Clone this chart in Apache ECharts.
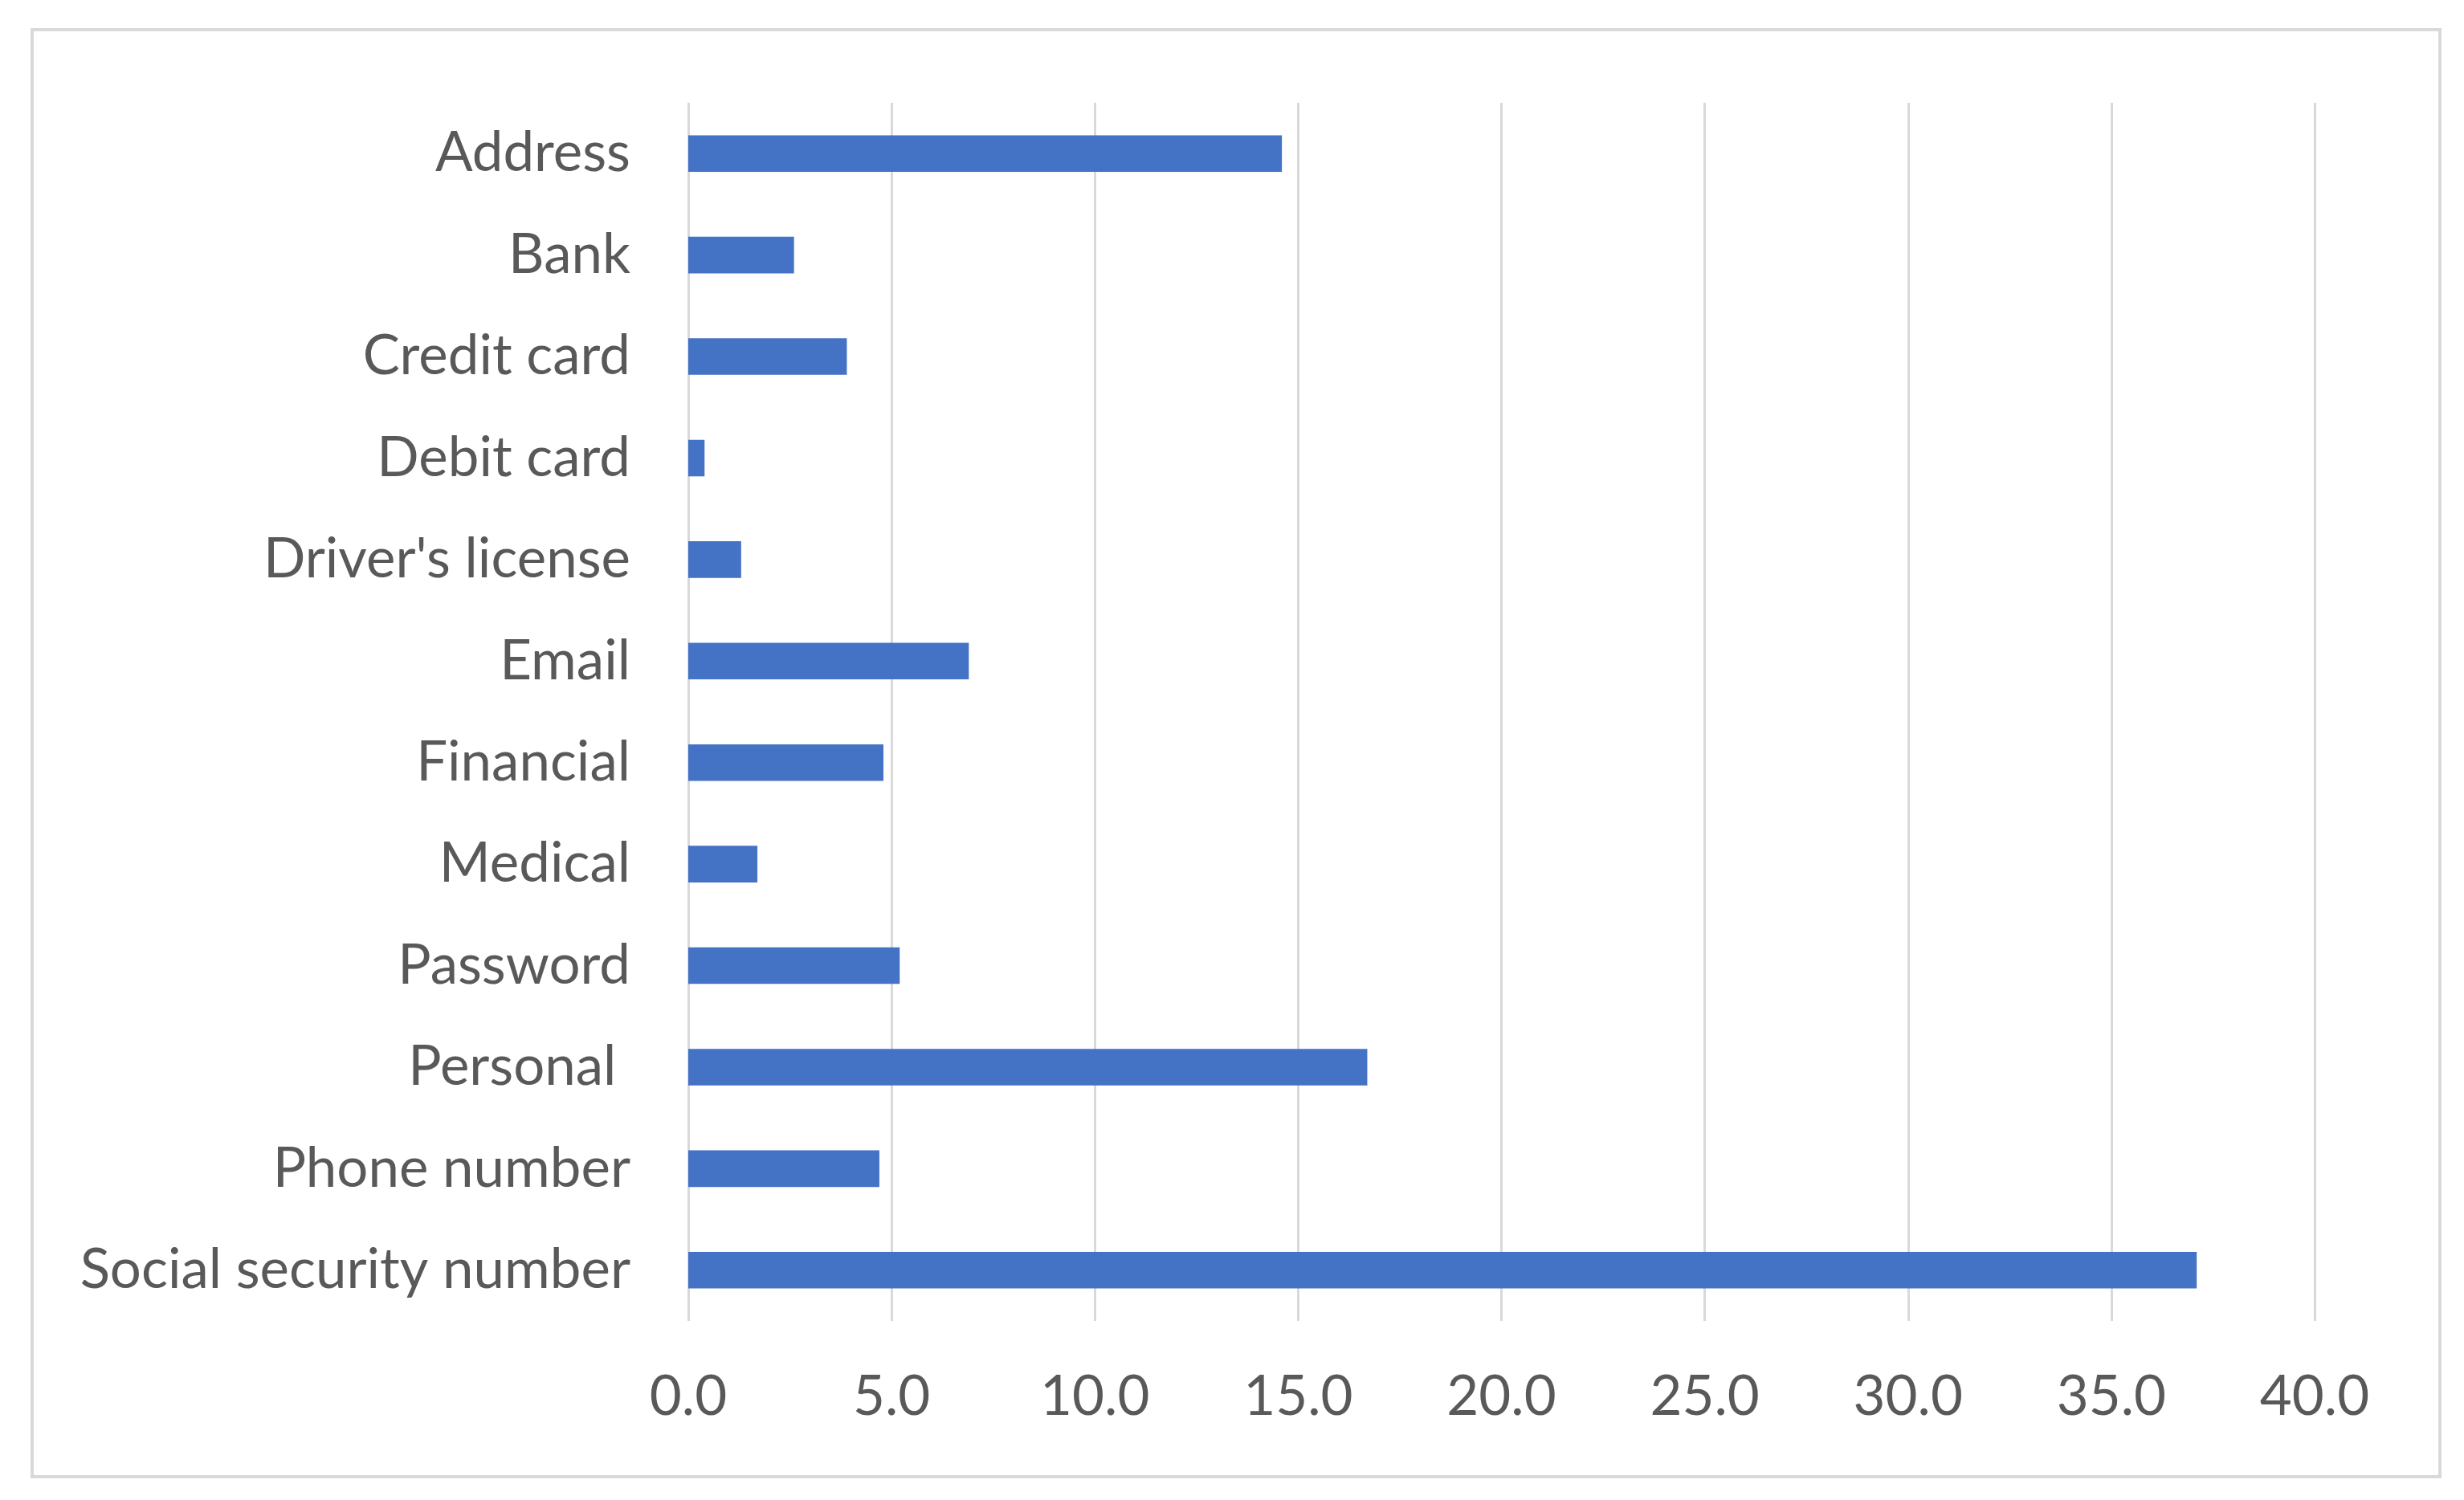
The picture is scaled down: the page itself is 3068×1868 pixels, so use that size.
<!DOCTYPE html>
<html>
<head>
<meta charset="utf-8">
<script src="https://cdn.jsdelivr.net/npm/echarts@6/dist/echarts.min.js"></script>
<style>
  html, body { margin: 0; padding: 0; background: #fff; }
  #Bars { width: 3068px; height: 1868px; }
</style>
</head>
<body>
<div id="Bars"></div>
<script>
// categories, top to bottom
const categories = ['Address', 'Bank', 'Credit card', 'Debit card', "Driver's license", 'Email',
  'Financial', 'Medical', 'Password', 'Personal ', 'Phone number', 'Social security number'];
const values = [14.6, 2.6, 3.9, 0.4, 1.3, 6.9, 4.8, 1.7, 5.2, 16.7, 4.7, 37.1];
const xMin = 0;
const xMax = 40;
const xStep = 5;

const dom = document.getElementById('Bars');
const myChart = echarts.init(dom);
const option = {
  animation: false,
  backgroundColor: '#ffffff',
  textStyle: { fontFamily: 'Lato' },
  graphic: [
    {
      type: 'rect',
      shape: { x: 40, y: 37, width: 2998, height: 1802 },
      style: { fill: 'none', stroke: '#d9d9d9', lineWidth: 4 },
      silent: true,
    },
  ],
  grid: {
    left: 857,
    right: 186,
    top: 128,
    bottom: 223,
    containLabel: false,
  },
  xAxis: {
    type: 'value',
    min: xMin,
    max: xMax,
    interval: xStep,
    axisLine: { show: false },
    axisTick: { show: false },
    splitLine: { show: true, lineStyle: { color: '#d9d9d9', width: 3 } },
    axisLabel: {
      color: '#595959',
      fontSize: 69,
      fontFamily: 'Lato',
      margin: 60,
      formatter: (v) => v.toFixed(1),
    },
  },
  yAxis: {
    type: 'category',
    data: categories,
    inverse: true,
    axisLine: { show: false },
    axisTick: { show: false },
    splitLine: { show: false },
    axisLabel: {
      color: '#595959',
      fontSize: 69,
      fontFamily: 'Lato',
      margin: 72,
    },
  },
  series: [
    {
      type: 'bar',
      data: values,
      barCategoryGap: '64%',
      itemStyle: { color: '#4472c4' },
    },
  ],
};
myChart.setOption(option);
window.addEventListener('resize', function () {
  myChart.resize();
});
</script>
</body>
</html>
